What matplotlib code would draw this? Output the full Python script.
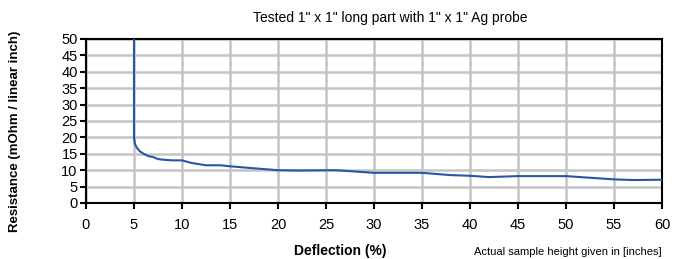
import matplotlib
matplotlib.use("Agg")
import matplotlib.pyplot as plt

plt.rcParams['font.family'] = ['Liberation Sans', 'DejaVu Sans']

deflection = [5.0, 5.0, 5.0, 5.1, 5.3, 5.6, 6.0, 6.5, 7.0, 7.5, 8.0, 9.0, 10.0, 10.5, 11.0,
              12.5, 14.0, 15.0, 17.0, 20.0, 22.0, 26.0, 30.0, 35.0, 38.0, 40.0, 42.0,
              45.0, 50.0, 53.0, 55.0, 57.0, 60.0]
resistance = [50.0, 30.0, 20.0, 18.0, 16.8, 15.8, 15.0, 14.3, 14.0, 13.4, 13.2, 13.0, 13.0,
              12.6, 12.2, 11.5, 11.5, 11.2, 10.7, 10.0, 9.9, 10.0, 9.2, 9.2, 8.5, 8.3, 7.9,
              8.2, 8.2, 7.6, 7.2, 7.0, 7.1]

xticks = list(range(0, 61, 5))
yticks = list(range(0, 51, 5))

fig = plt.figure(figsize=(6.79, 2.59), dpi=100)
ax = fig.add_axes([86/679, 1 - 203/259, (662-86)/679, (203-39)/259])
ax.plot(deflection, resistance, color='#2a55a3', lw=1.5, zorder=3)
ax.set_xlim(0, 60)
ax.set_ylim(0, 50)
ax.set_xticks(xticks)
ax.set_yticks(yticks)
ax.grid(True, color='#c4c4c4', lw=1.8)
ax.set_axisbelow(True)
for s in ax.spines.values():
    s.set_color('black')
    s.set_linewidth(1.5)
ax.tick_params(axis='both', direction='out', length=4, width=1.5, labelsize=10.5, colors='black')
ax.tick_params(axis='x', pad=7)
ax.tick_params(axis='y', pad=2)

fig.text(390/679, 1 - 18/259, 'Tested 1" x 1" long part with 1" x 1" Ag probe', ha='center', va='center', fontsize=10)
fig.text(340/679, 1 - 251/259, 'Deflection (%)', ha='center', va='center', fontsize=10, fontweight='bold')
fig.text(15/679, 1 - 131/259, 'Resistance (mOhm / linear inch)', ha='center', va='center', rotation=90, fontsize=9.5, fontweight='bold')
fig.text(662/679, 1 - 252/259, 'Actual sample height given in [inches]', ha='right', va='center', fontsize=8)

fig.savefig('out.png', dpi=100)
